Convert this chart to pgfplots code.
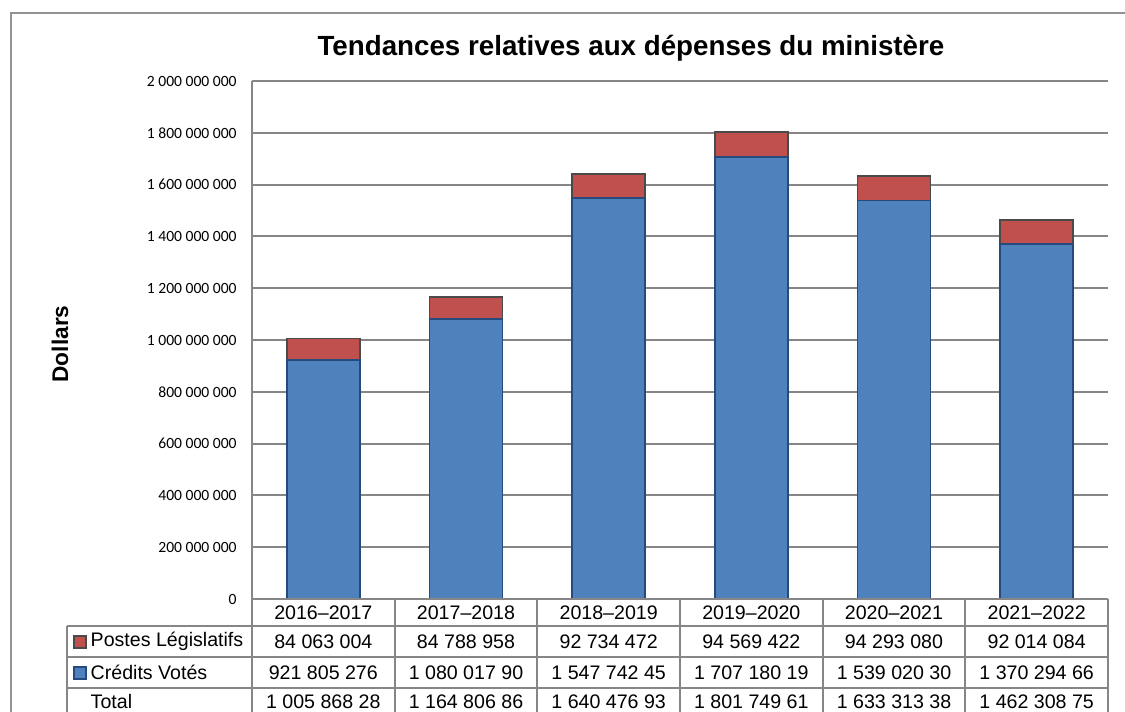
\documentclass[border=0pt]{standalone}
\usepackage{pgfplots}
\pgfplotsset{compat=1.18}
\usepackage{pgfplotstable}
\usepackage{fontspec}
\setmainfont{Liberation Sans}
\newfontfamily\calibri{Carlito}

\definecolor{votes}{HTML}{4F81BD}
\definecolor{votesedge}{HTML}{254A7E}
\definecolor{postes}{HTML}{C0504D}
\definecolor{postesedge}{HTML}{4A4A4A}
\definecolor{gridgrey}{HTML}{868686}

% x = position of the year, values in dollars
\pgfplotstableread{
x credits postes
0 921805276 84063004
1 1080017900 84788958
2 1547742450 92734472
3 1707180190 94569422
4 1539020300 94293080
5 1370294660 92014084
}\depenses

\begin{document}
\begin{tikzpicture}
\begin{scope}[x=0.75pt,y=-0.75pt]
\useasboundingbox (0,0) rectangle (1125,712);
\clip (0,0) rectangle (1125,712);
\draw[gridgrey!90, line width=1.5pt] (11,13) rectangle (1200,760);
\node[font=\bfseries\fontsize{20.8}{24}\selectfont] at (631,48) {Tendances relatives aux dépenses du ministère};
\node[font=\bfseries\fontsize{17}{20}\selectfont, rotate=90] at (60,344) {Dollars};
\end{scope}

\begin{axis}[
    at={(189pt,-449.25pt)}, anchor=south west,
    scale only axis, width=642pt, height=388.5pt,
    ybar stacked, bar width=0.51,
    xmin=-0.5, xmax=5.5, ymin=0, ymax=2000000000,
    xtick=\empty,
    ytick={0,200000000,400000000,600000000,800000000,1000000000,1200000000,1400000000,1600000000,1800000000,2000000000},
    yticklabels={0,200 000 000,400 000 000,600 000 000,800 000 000,1 000 000 000,1 200 000 000,1 400 000 000,1 600 000 000,1 800 000 000,2 000 000 000},
    yticklabel style={font=\calibri\fontsize{11.7}{13}\selectfont, xshift=-8pt},
    major tick length=0pt,
    axis x line*=bottom, axis y line*=left,
    axis line style={gridgrey, line width=1.6pt, -},
    ymajorgrids, grid style={gridgrey, line width=1.4pt},
    scaled y ticks=false,
]
\addplot[fill=votes, draw=votesedge, line width=1.3pt] table[x=x, y=credits] {\depenses};
\addplot[fill=postes, draw=postesedge, line width=1.3pt] table[x=x, y=postes] {\depenses};
\end{axis}

\begin{scope}[x=0.75pt,y=-0.75pt]
\clip (0,0) rectangle (1125,712);
\begin{scope}[gridgrey, line width=1.5pt]
\draw (252,599) -- (1108,599);
\draw (67,626) -- (1108,626);
\draw (67,657) -- (1108,657);
\draw (67,688) -- (1108,688);
\draw (67,719) -- (1108,719);
\draw (67,626) -- (67,730);
\foreach \k in {0,...,6} {\draw ({252+\k*142.667},599) -- ({252+\k*142.667},730);}
\end{scope}
\begin{scope}[font=\fontsize{14.7}{17}\selectfont]
\foreach \yr [count=\i from 0] in {2016--2017,2017--2018,2018--2019,2019--2020,2020--2021,2021--2022}
  {\node at ({323.33+\i*142.667},612.5) {\yr};}
\foreach \v [count=\i from 0] in {84 063 004,84 788 958,92 734 472,94 569 422,94 293 080,92 014 084}
  {\node at ({323.33+\i*142.667},641.5) {\v};}
\foreach \v [count=\i from 0] in {921 805 276,1 080 017 90,1 547 742 45,1 707 180 19,1 539 020 30,1 370 294 66}
  {\node at ({323.33+\i*142.667},672.5) {\v};}
\foreach \v [count=\i from 0] in {1 005 868 28,1 164 806 86,1 640 476 93,1 801 749 61,1 633 313 38,1 462 308 75}
  {\node at ({323.33+\i*142.667},701.5) {\v};}
\node[anchor=west] at (86,641.5) {Postes Législatifs};
\node[anchor=west] at (86,672.5) {Crédits Votés};
\node[anchor=west] at (86,701.5) {Total};
\end{scope}
\draw[fill=postes, draw=postesedge, line width=1pt] (74,636) rectangle (86,648);
\draw[fill=votes, draw=votesedge, line width=1pt] (74,667) rectangle (86,679);
\end{scope}
\end{tikzpicture}
\end{document}
